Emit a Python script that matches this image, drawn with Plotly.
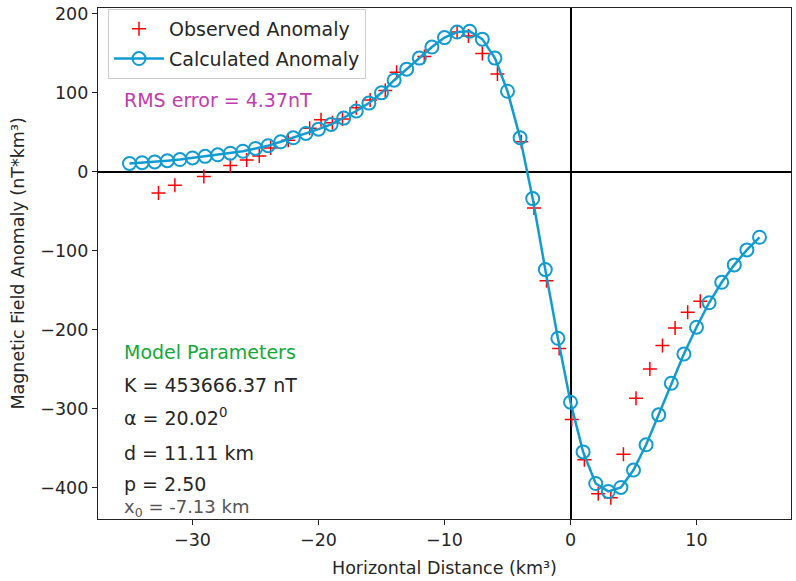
import plotly.graph_objects as go

# Calculated anomaly (model) values
calc_x = list(range(-35, 16))
calc_y = [10.5, 11.5, 12.5, 14, 15.5, 17.5, 19.5, 21.5, 23.5, 26,
          29.5, 33, 38, 43, 48.5, 54, 60, 68, 77, 87,
          100, 116, 130, 144, 158, 170, 177, 178, 168, 144,
          102, 43, -34, -124, -211, -292, -355, -395, -405, -400,
          -378, -346, -308, -268, -231, -197, -166, -140, -118, -99, -83]

# Observed anomaly values
obs_x = [-32.7, -31.4, -29.1, -27.0, -25.7, -24.7, -23.8, -22.4, -20.7, -19.8,
         -18.9, -18.1, -17.0, -15.9, -14.7, -13.8, -11.6, -9.0, -8.1, -7.0,
         -5.8, -3.9, -2.9, -1.9, -0.9, 0.1, 1.1, 2.2, 3.2, 4.2,
         5.2, 6.3, 7.3, 8.3, 9.3, 10.3]
obs_y = [-27, -17, -6, 8, 15, 20, 30, 40, 55, 66,
         62, 67, 81, 91, 103, 126, 146, 177, 172, 150,
         124, 38, -46, -138, -224, -314, -365, -408, -413, -358,
         -287, -250, -220, -198, -178, -164]

x_ticks = [-30, -20, -10, 0, 10]
y_ticks = [-400, -300, -200, -100, 0, 100, 200]

rms_text = "RMS error = 4.37nT"
param_title = "Model Parameters"
param_lines = ["K = 453666.37 nT", "α = 20.02<sup>0</sup>", "d = 11.11 km", "p = 2.50"]
x0_text = "x<sub>0</sub> = -7.13 km"

FONT = "DejaVu Sans"
TXT = "#262626"
BLUE = "#129bd0"

fig = go.Figure()
fig.add_trace(go.Scatter(
    x=obs_x, y=obs_y, mode="markers", name="Observed Anomaly",
    legendgroup="obs",
    marker=dict(symbol="cross-thin", size=10, color="red",
                line=dict(color="red", width=1.5)),
))
fig.add_trace(go.Scatter(
    x=calc_x, y=calc_y, mode="lines+markers", name="Calculated Anomaly",
    legendgroup="calc",
    line=dict(color=BLUE, width=2.5),
    marker=dict(symbol="circle-open", size=13, color=BLUE,
                line=dict(color=BLUE, width=2)),
))

W, H = 796, 581
L, R, T, B = 98, 4, 4, 62
pw, ph = W - L - R, H - T - B

def px(xpix):
    return (xpix - L) / pw

def py(ypix):
    return 1 - (ypix - T) / ph

annos = []
annos.append(dict(text=rms_text, x=px(122), y=py(97), xref="paper", yref="paper",
                  xanchor="left", yanchor="middle", showarrow=False,
                  font=dict(family=FONT, size=19, color="#c13cb0")))
annos.append(dict(text=param_title, x=px(122), y=py(351), xref="paper", yref="paper",
                  xanchor="left", yanchor="middle", showarrow=False,
                  font=dict(family=FONT, size=19, color="#12a93a")))
for t, yp in zip(param_lines, [384, 416, 452, 484]):
    annos.append(dict(text=t, x=px(122), y=py(yp), xref="paper", yref="paper",
                      xanchor="left", yanchor="middle", showarrow=False,
                      font=dict(family=FONT, size=19, color=TXT)))
annos.append(dict(text=x0_text, x=px(122), y=py(508), xref="paper", yref="paper",
                  xanchor="left", yanchor="middle", showarrow=False,
                  font=dict(family="Liberation Sans Narrow, " + FONT, size=18, color="#555555")))
# axis titles
annos.append(dict(text="Magnetic Field Anomaly (nT*km³)", x=px(17), y=0.5,
                  xref="paper", yref="paper", textangle=-90, showarrow=False,
                  xanchor="center", yanchor="middle",
                  font=dict(family=FONT, size=17.5, color=TXT)))
annos.append(dict(text="Horizontal Distance (km³)", x=0.5, y=py(568),
                  xref="paper", yref="paper", showarrow=False,
                  xanchor="center", yanchor="middle",
                  font=dict(family=FONT, size=17.5, color=TXT)))

axis_common = dict(showgrid=False, showline=True, linecolor="#222", linewidth=1.2,
                   mirror=True, ticks="outside", ticklen=5, tickwidth=1.2, tickcolor="#222",
                   zeroline=True, zerolinecolor="black", zerolinewidth=2.2,
                   tickfont=dict(family=FONT, size=17.5, color=TXT))

fig.update_layout(
    width=W, height=H,
    margin=dict(l=L, r=R, t=T, b=B),
    plot_bgcolor="white", paper_bgcolor="white",
    xaxis=dict(range=[-37.5, 17.5], tickvals=x_ticks, **axis_common),
    yaxis=dict(range=[-440, 207.5], tickvals=y_ticks, **axis_common),
    legend=dict(x=px(108), y=py(5), xanchor="left", yanchor="top",
                bgcolor="white", bordercolor="#cccccc", borderwidth=1,
                itemwidth=50, traceorder="grouped", tracegroupgap=2,
                font=dict(family=FONT, size=19, color=TXT)),
    annotations=annos,
    showlegend=True,
)

fig.write_html("out.html", config={"displayModeBar": False},
               post_script="document.body.style.margin='0px';document.body.style.overflow='hidden';")
